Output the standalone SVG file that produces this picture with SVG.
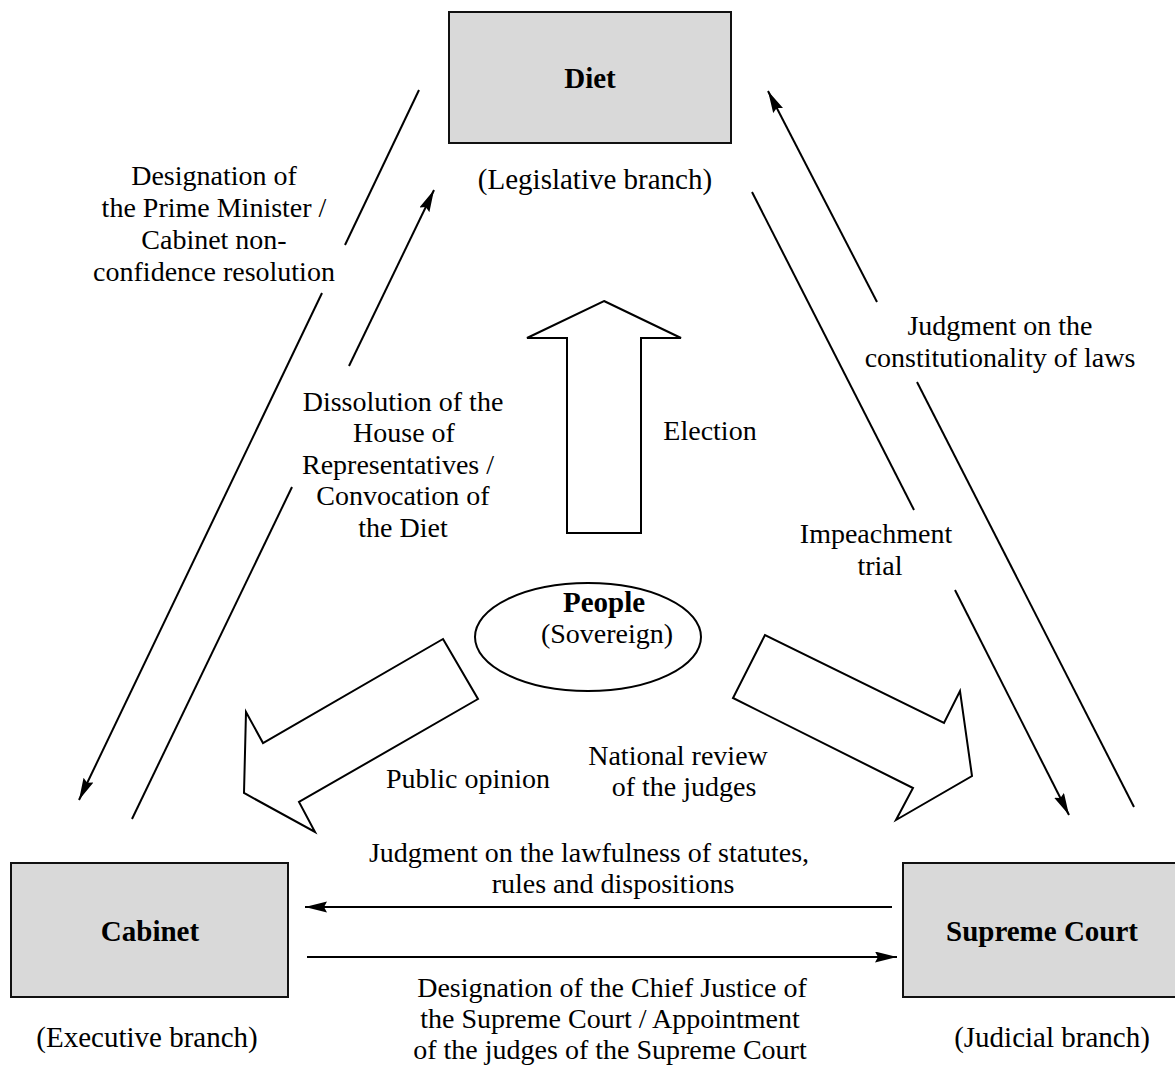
<svg xmlns="http://www.w3.org/2000/svg" width="1175" height="1066" viewBox="0 0 1175 1066">
<defs>
<marker id="ah" markerUnits="userSpaceOnUse" markerWidth="24" markerHeight="12" refX="22" refY="5.5" orient="auto">
<path d="M0,0 L22,5.5 L0,11 L3,5.5 z" fill="#000"/>
</marker>
<style>
.box{fill:#d9d9d9;stroke:#111;stroke-width:2}
.ln{stroke:#000;stroke-width:2;fill:none}
.ar{stroke:#000;stroke-width:2;fill:none;marker-end:url(#ah)}
.blk{fill:#fff;stroke:#000;stroke-width:2;stroke-linejoin:miter}
text{font-family:"Liberation Serif","Times New Roman",serif;fill:#000;text-anchor:middle}
.t{font-size:28px}
.br{font-size:29px}
.b{font-size:29px;font-weight:bold}
</style>
</defs>
<rect width="1175" height="1066" fill="#fff"/>

<g id="diet">
<rect class="box" x="449" y="12" width="282" height="131"/>
<text class="b" x="590" y="88">Diet</text>
<text class="br" x="595" y="189">(Legislative branch)</text>
</g>

<g id="cabinet">
<rect class="box" x="11" y="863" width="277" height="134"/>
<text class="b" x="150" y="941">Cabinet</text>
<text class="br" x="147" y="1047">(Executive branch)</text>
</g>

<g id="supreme-court">
<rect class="box" x="903" y="863" width="277" height="134"/>
<text class="b" x="1042" y="941">Supreme Court</text>
<text class="br" x="1052" y="1047">(Judicial branch)</text>
</g>

<g id="people">
<ellipse cx="588" cy="637" rx="113" ry="54" fill="#fff" stroke="#000" stroke-width="2"/>
<text class="b" x="604" y="612">People</text>
<text class="t" x="607" y="643">(Sovereign)</text>
</g>

<g id="connectors">
<!-- Diet -> Cabinet -->
<line class="ln" x1="419" y1="90" x2="345" y2="245"/>
<line class="ar" x1="322" y1="293" x2="79" y2="800"/>
<!-- Cabinet -> Diet -->
<line class="ln" x1="132" y1="819" x2="292" y2="487"/>
<line class="ar" x1="349" y1="366" x2="434" y2="190"/>
<!-- Supreme Court -> Diet -->
<line class="ln" x1="1134" y1="807" x2="917" y2="382"/>
<line class="ar" x1="877" y1="302" x2="768" y2="91"/>
<!-- Diet -> Supreme Court -->
<line class="ln" x1="752" y1="192" x2="914" y2="510"/>
<line class="ar" x1="955" y1="590" x2="1069" y2="815"/>
<!-- Supreme Court -> Cabinet -->
<line class="ar" x1="892" y1="907" x2="305" y2="907"/>
<!-- Cabinet -> Supreme Court -->
<line class="ar" x1="307" y1="957" x2="897" y2="957"/>
<!-- block arrows -->
<polygon class="blk" points="604,301 681,338 641,338 641,533 567,533 567,338 527,338"/>
<polygon class="blk" points="443,639 478,699 299,802 315,832 244,793 246,712 263,743"/>
<polygon class="blk" points="765,635 733,698 913,788 896,820 972,776 960,691 944,723"/>
</g>

<g id="labels">
<text class="t" x="214" y="185">Designation of</text>
<text class="t" x="214" y="217">the Prime Minister /</text>
<text class="t" x="214" y="249">Cabinet non-</text>
<text class="t" x="214" y="281">confidence resolution</text>

<text class="t" x="403" y="411">Dissolution of the</text>
<text class="t" x="404" y="442">House of</text>
<text class="t" x="398" y="474">Representatives /</text>
<text class="t" x="403" y="505">Convocation of</text>
<text class="t" x="403" y="537">the Diet</text>

<text class="t" x="710" y="440">Election</text>

<text class="t" x="1000" y="335">Judgment on the</text>
<text class="t" x="1000" y="367">constitutionality of laws</text>

<text class="t" x="876" y="543">Impeachment</text>
<text class="t" x="880" y="575">trial</text>

<text class="t" x="468" y="788">Public opinion</text>
<text class="t" x="678" y="765">National review</text>
<text class="t" x="684" y="796">of the judges</text>

<text class="t" x="589" y="862">Judgment on the lawfulness of statutes,</text>
<text class="t" x="613" y="893">rules and dispositions</text>

<text class="t" x="612" y="997">Designation of the Chief Justice of</text>
<text class="t" x="610" y="1028">the Supreme Court / Appointment</text>
<text class="t" x="610" y="1059">of the judges of the Supreme Court</text>
</g>
</svg>
